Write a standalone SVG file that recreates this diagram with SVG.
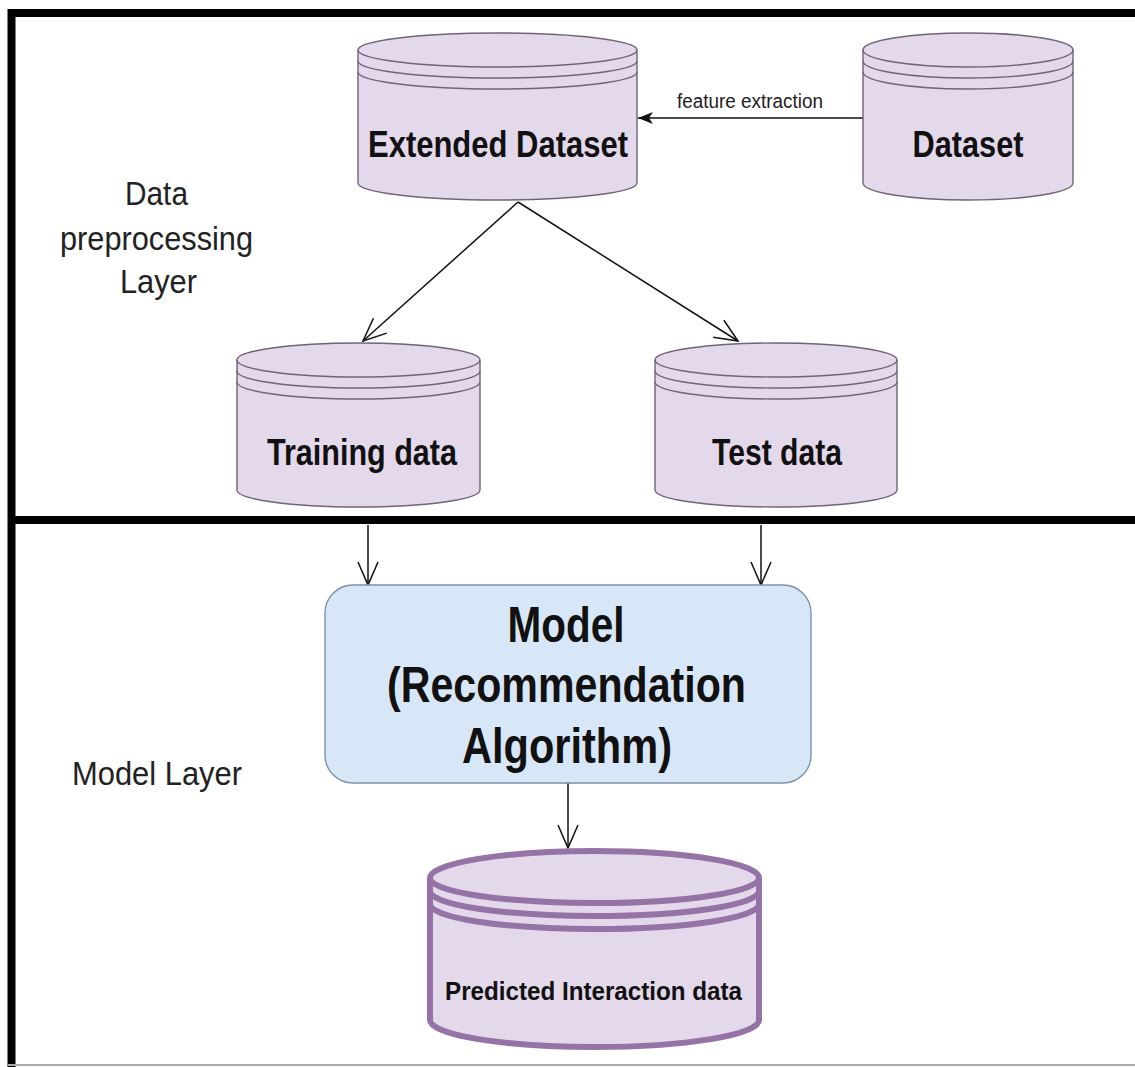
<svg xmlns="http://www.w3.org/2000/svg" width="1135" height="1067" viewBox="0 0 1135 1067">
  <style>
    .frame { stroke: #000; stroke-width: 8; fill: none; }
    .db { fill: #e4d8eb; stroke: #6f6478; stroke-width: 1.4; }
    .db-line { fill: none; stroke: #6f6478; stroke-width: 1.4; }
    .db-bold { fill: #e4d8eb; stroke: #9673a6; stroke-width: 6; }
    .db-bold-line { fill: none; stroke: #9673a6; stroke-width: 6; }
    .node-label { font-family: "Liberation Sans", Arial, sans-serif; font-weight: bold; fill: #111; text-anchor: middle; }
    .layer-label { font-family: "Liberation Sans", Arial, sans-serif; fill: #222; text-anchor: middle; }
    .edge { stroke: #111; stroke-width: 1.5; fill: none; }
  </style>
  <defs>
    <marker id="arrow-filled" markerUnits="userSpaceOnUse" markerWidth="16" markerHeight="14" refX="15" refY="7" orient="auto">
      <path d="M0,1 L15,7 L0,13 L4,7 Z" fill="#111"/>
    </marker>
    <marker id="arrow-open" markerUnits="userSpaceOnUse" markerWidth="26" markerHeight="24" refX="24" refY="11" orient="auto">
      <path d="M1,1 L24,11 L1,21" fill="none" stroke="#111" stroke-width="1.5"/>
    </marker>
  </defs>

  <rect width="1135" height="1067" fill="#fff"/>

  <!-- layer frame -->
  <g id="frame">
    <line class="frame" x1="8" y1="13" x2="1135" y2="13"/>
    <line class="frame" x1="11.5" y1="9" x2="11.5" y2="1067"/>
    <line class="frame" x1="8" y1="520" x2="1135" y2="520"/>
    <line x1="8" y1="1065" x2="1135" y2="1065" stroke="#aaa" stroke-width="2"/>
  </g>

  <!-- layer captions -->
  <g id="label-preprocessing">
    <text class="layer-label" font-size="33" x="156.5" y="205" textLength="63" lengthAdjust="spacingAndGlyphs">Data</text>
    <text class="layer-label" font-size="33" x="156.5" y="250" textLength="193" lengthAdjust="spacingAndGlyphs">preprocessing</text>
    <text class="layer-label" font-size="33" x="158.5" y="293" textLength="77" lengthAdjust="spacingAndGlyphs">Layer</text>
  </g>
  <g id="label-model-layer">
    <text class="layer-label" font-size="33" x="157" y="785" textLength="170" lengthAdjust="spacingAndGlyphs">Model Layer</text>
  </g>

  <!-- connectors -->
  <g id="connectors">
    <line class="edge" x1="863" y1="118" x2="638" y2="118" marker-end="url(#arrow-filled)"/>
    <text font-family="Liberation Sans, Arial, sans-serif" font-size="20" fill="#222" text-anchor="middle" x="750" y="108" textLength="146" lengthAdjust="spacingAndGlyphs">feature extraction</text>
    <line class="edge" x1="518" y1="202" x2="363" y2="341" marker-end="url(#arrow-open)"/>
    <line class="edge" x1="518" y1="202" x2="738" y2="341" marker-end="url(#arrow-open)"/>
    <line class="edge" x1="368" y1="525" x2="368" y2="585" marker-end="url(#arrow-open)"/>
    <line class="edge" x1="761" y1="525" x2="761" y2="585" marker-end="url(#arrow-open)"/>
    <line class="edge" x1="568" y1="783" x2="568" y2="848" marker-end="url(#arrow-open)"/>
  </g>

  <!-- Extended Dataset -->
  <g id="extended-dataset">
    <path class="db" d="M358,50 A139.5,17 0 0 1 637,50 L637,183 A139.5,17 0 0 1 358,183 Z"/>
    <path class="db-line" d="M358,50 A139.5,17 0 0 0 637,50 M358,61 A139.5,17 0 0 0 637,61 M358,72 A139.5,17 0 0 0 637,72"/>
    <text class="node-label" font-size="37" x="498" y="157" textLength="260" lengthAdjust="spacingAndGlyphs">Extended Dataset</text>
  </g>

  <!-- Dataset -->
  <g id="dataset">
    <path class="db" d="M863,50 A105,17 0 0 1 1073,50 L1073,183 A105,17 0 0 1 863,183 Z"/>
    <path class="db-line" d="M863,50 A105,17 0 0 0 1073,50 M863,61 A105,17 0 0 0 1073,61 M863,72 A105,17 0 0 0 1073,72"/>
    <text class="node-label" font-size="37" x="968" y="157" textLength="111" lengthAdjust="spacingAndGlyphs">Dataset</text>
  </g>

  <!-- Training data -->
  <g id="training-data">
    <path class="db" d="M237,360 A121.5,17 0 0 1 480,360 L480,490 A121.5,17 0 0 1 237,490 Z"/>
    <path class="db-line" d="M237,360 A121.5,17 0 0 0 480,360 M237,371 A121.5,17 0 0 0 480,371 M237,382 A121.5,17 0 0 0 480,382"/>
    <text class="node-label" font-size="37" x="362" y="465" textLength="190" lengthAdjust="spacingAndGlyphs">Training data</text>
  </g>

  <!-- Test data -->
  <g id="test-data">
    <path class="db" d="M655,360 A121,17 0 0 1 897,360 L897,490 A121,17 0 0 1 655,490 Z"/>
    <path class="db-line" d="M655,360 A121,17 0 0 0 897,360 M655,371 A121,17 0 0 0 897,371 M655,382 A121,17 0 0 0 897,382"/>
    <text class="node-label" font-size="37" x="777" y="465" textLength="130" lengthAdjust="spacingAndGlyphs">Test data</text>
  </g>

  <!-- Model -->
  <g id="model">
    <rect x="325" y="585" width="486" height="198" rx="28" ry="28" fill="#d8e7f8" stroke="#7d93ab" stroke-width="1.4"/>
    <text class="node-label" font-size="50" x="566" y="642" textLength="117" lengthAdjust="spacingAndGlyphs">Model</text>
    <text class="node-label" font-size="50" x="566.5" y="702" textLength="359" lengthAdjust="spacingAndGlyphs">(Recommendation</text>
    <text class="node-label" font-size="50" x="567" y="763" textLength="210" lengthAdjust="spacingAndGlyphs">Algorithm)</text>
  </g>

  <!-- Predicted Interaction data -->
  <g id="predicted-data">
    <path class="db-bold" d="M430,878 A164.5,27 0 0 1 759,878 L759,1020 A164.5,27 0 0 1 430,1020 Z"/>
    <path class="db-bold-line" d="M430,878 A164.5,25 0 0 0 759,878 M430,891 A164.5,25 0 0 0 759,891 M430,904 A164.5,25 0 0 0 759,904"/>
    <text class="node-label" font-size="25" x="593.5" y="1000" textLength="297" lengthAdjust="spacingAndGlyphs">Predicted Interaction data</text>
  </g>
</svg>
